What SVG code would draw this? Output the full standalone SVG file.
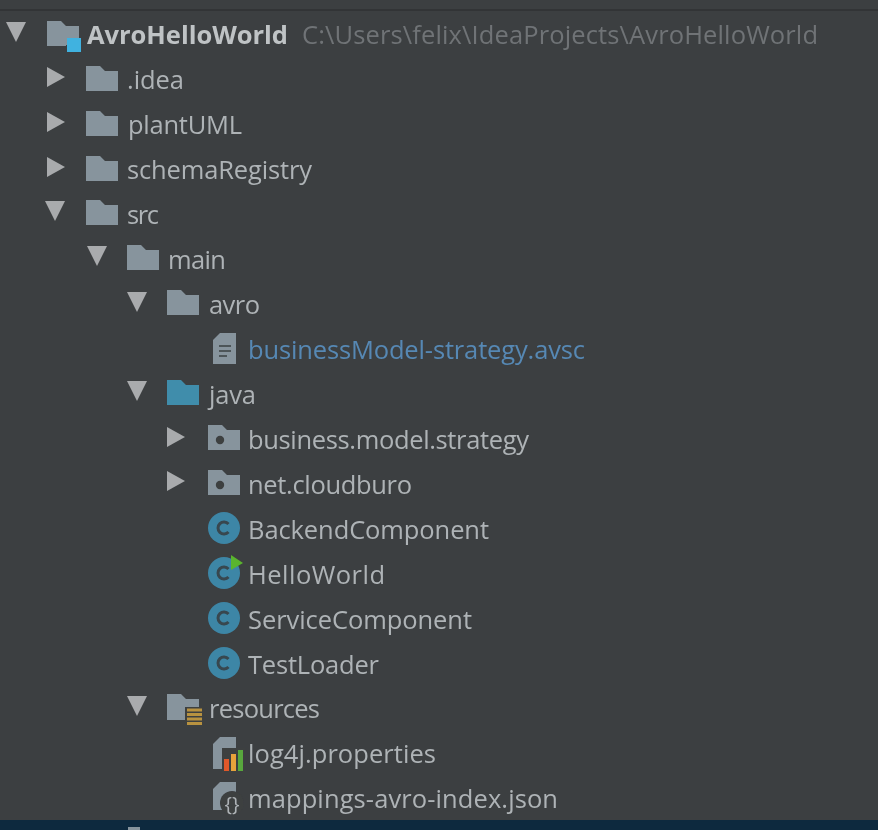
<svg xmlns="http://www.w3.org/2000/svg" width="878" height="830" viewBox="0 0 878 830">
<style>
text{font-family:"Open Sans","Noto Sans","Liberation Sans",sans-serif;font-size:25.5px;fill:#aeb3b6}
.blue{fill:#5688b4}.path{fill:#6f7376}.bold{font-weight:700;fill:#bfc3c5}
.tri{fill:#a9abad}.fold{fill:#87949d}.c{fill:#3d86a6}.cg{fill:none;stroke:#37474f;stroke-width:3}
</style>
<defs>
<filter id="soft" x="0" y="0" width="100%" height="100%"><feGaussianBlur stdDeviation="0.55"/></filter>
<path id="folder" d="M0 1H14L19 6H32V26H0Z"/>
<polygon id="down" points="0,0 20,0 10,20" class="tri"/>
<polygon id="right" points="0,0 18,10 0,20" class="tri"/>
<g id="pkg"><use href="#folder" class="fold"/><circle cx="12" cy="16" r="4.2" fill="#3c3f41"/></g>
<g id="cls"><circle cx="16" cy="16" r="16" class="c"/><path d="M20.5 12A6 6 0 1 0 20.5 20" class="cg"/></g>
</defs>
<rect width="878" height="830" fill="#3c3f41"/>
<rect y="9" width="878" height="2" fill="#323436"/>
<rect y="820" width="878" height="10" fill="#0d293e"/>
<rect x="128" y="827" width="12" height="3" fill="#87949d"/>
<g filter="url(#soft)">
<g id="connectors"/>
<g id="n-root"><use href="#down" x="6" y="22"/><path d="M47 21H61L66 26H79V45H66V46H47Z" class="fold"/><rect x="67" y="38" width="14" height="14" fill="#3fb2e0"/><text x="87" y="44" class="bold" textLength="201">AvroHelloWorld</text><text x="302" y="44" class="path" textLength="516">C:\Users\felix\IdeaProjects\AvroHelloWorld</text></g>
<g id="n-idea"><use href="#right" x="47" y="67"/><use href="#folder" x="86" y="65" class="fold"/><text x="127" y="89" textLength="57">.idea</text></g>
<g id="n-plantuml"><use href="#right" x="47" y="112"/><use href="#folder" x="86" y="110" class="fold"/><text x="128" y="134" textLength="114">plantUML</text></g>
<g id="n-schema"><use href="#right" x="47" y="157"/><use href="#folder" x="86" y="155" class="fold"/><text x="127" y="179" textLength="185">schemaRegistry</text></g>
<g id="n-src"><use href="#down" x="45" y="201"/><use href="#folder" x="86" y="199" class="fold"/><text x="127" y="224" textLength="32">src</text></g>
<g id="n-main"><use href="#down" x="87" y="246"/><use href="#folder" x="127" y="244" class="fold"/><text x="168" y="269" textLength="58">main</text></g>
<g id="n-avro"><use href="#down" x="127" y="292"/><use href="#folder" x="167" y="289" class="fold"/><text x="209" y="314" textLength="51">avro</text></g>
<g id="n-avsc"><path d="M220 333H236V364H213V340Z" fill="#87949d"/><path d="M219 346H231M219 351H231M219 356H227" stroke="#3c3f41" stroke-width="1.6"/><text x="248" y="359" class="blue" textLength="337">businessModel-strategy.avsc</text></g>
<g id="n-java"><use href="#down" x="127" y="381"/><use href="#folder" x="167" y="379" fill="#3f8dab"/><text x="209" y="404" textLength="47">java</text></g>
<g id="n-business"><use href="#right" x="167" y="427"/><use href="#pkg" x="208" y="424"/><text x="248" y="449" textLength="281">business.model.strategy</text></g>
<g id="n-net"><use href="#right" x="167" y="471"/><use href="#pkg" x="208" y="469"/><text x="248" y="494" textLength="164">net.cloudburo</text></g>
<g id="n-backend"><use href="#cls" x="208" y="512"/><text x="248" y="539" textLength="241">BackendComponent</text></g>
<g id="n-hello"><use href="#cls" x="208" y="557"/><polygon points="231,555 243,563 231,570" fill="#5ab52e"/><text x="248" y="584" textLength="137">HelloWorld</text></g>
<g id="n-service"><use href="#cls" x="208" y="602"/><text x="248" y="629" textLength="224">ServiceComponent</text></g>
<g id="n-test"><use href="#cls" x="208" y="647"/><text x="248" y="674" textLength="131">TestLoader</text></g>
<g id="n-resources"><use href="#down" x="127" y="696"/><path d="M167 694H181L186 699H199V719H186V720H167Z" class="fold"/><rect x="185" y="707" width="18" height="20" fill="#3c3f41"/><path d="M187 710H202M187 714.5H202M187 719H202M187 723.5H202" stroke="#b8923f" stroke-width="3"/><text x="209" y="718" textLength="111">resources</text></g>
<g id="n-log4j"><path d="M220 737H236V769H213V744Z" fill="#87949d"/><rect x="222" y="748" width="23" height="24" fill="#3c3f41"/><rect x="224" y="759" width="5" height="12" fill="#e0592a"/><rect x="231" y="754" width="5" height="17" fill="#e8a33a"/><rect x="238" y="750" width="5" height="21" fill="#59a83c"/><text x="248" y="763" textLength="188">log4j.properties</text></g>
<g id="n-mappings"><path d="M220 782H236V810H213V789Z" fill="#87949d"/><circle cx="232" cy="803" r="12" fill="#3c3f41"/><text x="232" y="811" text-anchor="middle" style="font-size:20px;fill:#aeb3b6">{}</text><text x="248" y="808" textLength="310">mappings-avro-index.json</text></g>
</g>
</svg>
